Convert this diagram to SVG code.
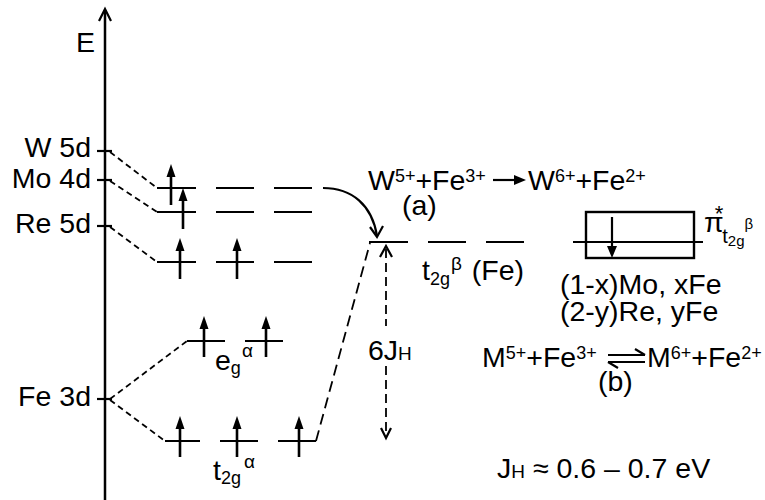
<svg xmlns="http://www.w3.org/2000/svg" xmlns:xlink="http://www.w3.org/1999/xlink" width="765" height="500" viewBox="0 0 765 500">
<style>
text{font-family:"Liberation Sans",Arial,sans-serif;fill:#000;font-size:28.5px}
.sup{font-size:18px}
.sm{font-size:19px}
.lvl{stroke:#000;stroke-width:2;fill:none}
.dash{stroke:#000;stroke-width:1.8;stroke-dasharray:6,4;fill:none}
.ldash{stroke:#000;stroke-width:1.8;stroke-dasharray:11,6;fill:none}
.ln{stroke:#000;stroke-width:2.2;fill:none}
</style>
<defs>
<g id="spin"><line x1="0" y1="0" x2="0" y2="-30" stroke="#000" stroke-width="2.6"/><polygon points="0,-41 -4.5,-28 4.5,-28" fill="#000"/></g>
</defs>
<rect width="765" height="500" fill="#fff"/>
<g id="axis">
<line x1="105" y1="10" x2="105" y2="500" stroke="#000" stroke-width="2.5"/>
<polyline points="99,21 105,9 111,21" class="ln" stroke-width="2.5"/>
<text x="95" y="52" text-anchor="end">E</text>
<line x1="97" y1="151" x2="112" y2="151" class="ln"/>
<line x1="97" y1="180" x2="112" y2="180" class="ln"/>
<line x1="97" y1="226" x2="112" y2="226" class="ln"/>
<line x1="97" y1="399" x2="112" y2="399" class="ln"/>
</g>
<g id="label-W"><text x="91" y="157" text-anchor="end">W 5d</text></g>
<g id="label-Mo"><text x="91" y="188" text-anchor="end">Mo 4d</text></g>
<g id="label-Re"><text x="91" y="233" text-anchor="end">Re 5d</text></g>
<g id="label-Fe"><text x="91" y="406" text-anchor="end">Fe 3d</text></g>
<g id="connectors">
<line x1="110" y1="152" x2="157" y2="188" class="dash"/>
<line x1="110" y1="181" x2="157" y2="212" class="dash"/>
<line x1="110" y1="227" x2="157" y2="262" class="dash"/>
<line x1="110" y1="399" x2="187" y2="341" class="dash"/>
<line x1="110" y1="400" x2="165" y2="441" class="dash"/>
<line x1="316" y1="441" x2="370" y2="243" class="ldash"/>
<path d="M323,188 C352,188 372,205 377,236" class="ln" stroke-width="1.8"/>
<polyline points="370,227 377,237 383,226" class="ln" stroke-width="1.8"/>
<line x1="386" y1="249" x2="386" y2="326" stroke="#000" stroke-width="1.8" stroke-dasharray="9,5"/>
<polyline points="380,257 386,246 392,257" class="ln" stroke-width="1.8"/>
<line x1="386" y1="366" x2="386" y2="436" stroke="#000" stroke-width="1.8" stroke-dasharray="9,5"/>
<polyline points="381,428 386,438 391,428" class="ln" stroke-width="1.8"/>
</g>
<g id="W-levels">
<line x1="157" y1="188" x2="196" y2="188" class="lvl"/>
<line x1="216" y1="188" x2="254" y2="188" class="lvl"/>
<line x1="274" y1="188" x2="312" y2="188" class="lvl"/>
<use xlink:href="#spin" x="171" y="205"/>
</g>
<g id="Mo-levels">
<line x1="157" y1="212" x2="196" y2="212" class="lvl"/>
<line x1="216" y1="212" x2="254" y2="212" class="lvl"/>
<line x1="274" y1="212" x2="312" y2="212" class="lvl"/>
<use xlink:href="#spin" x="183" y="229"/>
</g>
<g id="Re-levels">
<line x1="157" y1="262" x2="196" y2="262" class="lvl"/>
<line x1="216" y1="262" x2="254" y2="262" class="lvl"/>
<line x1="274" y1="262" x2="312" y2="262" class="lvl"/>
<use xlink:href="#spin" x="180" y="279"/>
<use xlink:href="#spin" x="237" y="279"/>
</g>
<g id="eg-alpha">
<line x1="187" y1="341" x2="225" y2="341" class="lvl"/>
<line x1="245" y1="341" x2="283" y2="341" class="lvl"/>
<use xlink:href="#spin" x="204" y="357"/>
<use xlink:href="#spin" x="266" y="357"/>
<text x="215" y="370">e<tspan class="sup" dy="4">g</tspan><tspan class="sm" dx="1" dy="-17">α</tspan></text>
</g>
<g id="t2g-alpha">
<line x1="165" y1="441" x2="200" y2="441" class="lvl"/>
<line x1="220" y1="441" x2="258" y2="441" class="lvl"/>
<line x1="278" y1="441" x2="316" y2="441" class="lvl"/>
<use xlink:href="#spin" x="180" y="457"/>
<use xlink:href="#spin" x="237" y="457"/>
<use xlink:href="#spin" x="299" y="457"/>
<text x="213" y="480">t<tspan class="sup" dy="4">2g</tspan><tspan class="sm" dx="3" dy="-16">α</tspan></text>
</g>
<g id="t2g-beta">
<line x1="369" y1="242" x2="408" y2="242" class="lvl"/>
<line x1="428" y1="242" x2="466" y2="242" class="lvl"/>
<line x1="486" y1="242" x2="524" y2="242" class="lvl"/>
<text x="422" y="280">t<tspan class="sup" dy="5">2g</tspan><tspan class="sm" dx="1" dy="-15">β</tspan><tspan dx="2" dy="10"> (Fe)</tspan></text>
</g>
<g id="6JH"><text x="368" y="360">6J<tspan class="sm">H</tspan></text></g>
<g id="reaction-a">
<text x="368" y="190">W<tspan class="sup" dy="-8">5+</tspan><tspan dy="8">+Fe</tspan><tspan class="sup" dy="-8">3+</tspan></text>
<line x1="493" y1="180" x2="516" y2="180" stroke="#000" stroke-width="2.2"/>
<polygon points="526,180 514,175 514,185" fill="#000"/>
<text x="528" y="190">W<tspan class="sup" dy="-8">6+</tspan><tspan dy="8">+Fe</tspan><tspan class="sup" dy="-8">2+</tspan></text>
<text x="402" y="215">(a)</text>
</g>
<g id="pi-band">
<rect x="586" y="212" width="108" height="46" fill="none" stroke="#000" stroke-width="2.4"/>
<line x1="573" y1="242" x2="703" y2="242" class="lvl"/>
<line x1="612" y1="217" x2="612" y2="247" stroke="#000" stroke-width="2.2"/>
<polygon points="612,258 607,246 617,246" fill="#000"/>
<text x="704" y="232">π<tspan style="font-size:22px" dx="-9" dy="-11">*</tspan><tspan style="font-size:20px" dx="-1" dy="22">t</tspan><tspan style="font-size:15px" dy="3">2g</tspan><tspan style="font-size:15px" dy="-17">β</tspan></text>
<text x="560" y="294">(1-x)Mo, xFe</text>
<text x="560" y="321">(2-y)Re, yFe</text>
</g>
<g id="reaction-b">
<text x="482" y="367">M<tspan class="sup" dy="-8">5+</tspan><tspan dy="8">+Fe</tspan><tspan class="sup" dy="-8">3+</tspan></text>
<path d="M608,355 H645 M645,355 L635,349" class="ln" stroke-width="1.8"/>
<path d="M645,362 H608 M608,362 L618,368" class="ln" stroke-width="1.8"/>
<text x="647" y="367">M<tspan class="sup" dy="-8">6+</tspan><tspan dy="8">+Fe</tspan><tspan class="sup" dy="-8">2+</tspan></text>
<text x="598" y="391">(b)</text>
</g>
<g id="JH"><text x="497" y="478">J<tspan class="sm">H</tspan> ≈ 0.6 – 0.7 eV</text></g>
</svg>
